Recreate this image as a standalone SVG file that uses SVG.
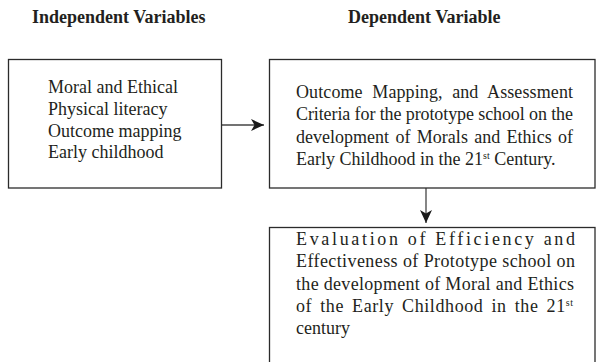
<svg xmlns="http://www.w3.org/2000/svg" width="597" height="362" viewBox="0 0 597 362">
<style>
.box{fill:#fff;stroke:#2b2b2b;stroke-width:1.3}
.t{font-family:"Liberation Serif","Times New Roman",serif;font-size:18px;fill:#231f20}
.h{font-family:"Liberation Serif","Times New Roman",serif;font-size:18px;font-weight:bold;fill:#231f20}
.sup{font-size:10px}
.conn{stroke:#444;stroke-width:1.3;fill:none}
</style>
<defs>
<marker id="ah" markerWidth="14" markerHeight="12" refX="13" refY="6" orient="auto" markerUnits="userSpaceOnUse">
<path d="M0,0 L13,6 L0,12 L3.5,6 Z" fill="#1a1a1a"/>
</marker>
</defs>
<g id="headers">
<text class="h" x="32" y="23">Independent Variables</text>
<text class="h" x="348" y="23">Dependent Variable</text>
</g>
<g id="connectors">
<line class="conn" x1="221.5" y1="125" x2="264" y2="125" marker-end="url(#ah)"/>
<line class="conn" x1="426" y1="188" x2="426" y2="223" marker-end="url(#ah)"/>
</g>
<g id="independent">
<rect class="box" x="8.5" y="59.5" width="213" height="128.5"/>
<text class="t" x="48" y="92.5">Moral and Ethical</text>
<text class="t" x="48" y="114.5">Physical literacy</text>
<text class="t" x="48" y="136.5">Outcome mapping</text>
<text class="t" x="48" y="158">Early childhood</text>
</g>
<g id="dependent">
<rect class="box" x="269.5" y="59.5" width="325.5" height="128.5"/>
<text class="t" x="296" y="98" textLength="277" lengthAdjust="spacing" word-spacing="5">Outcome Mapping, and Assessment</text>
<text class="t" x="296" y="120" textLength="277" lengthAdjust="spacing">Criteria for the prototype school on the</text>
<text class="t" x="296" y="142.5" textLength="277" lengthAdjust="spacing" word-spacing="1.8">development of Morals and Ethics of</text>
<text class="t" x="296" y="165">Early Childhood in the 21<tspan class="sup" dy="-6">st</tspan><tspan dy="6"> Century.</tspan></text>
</g>
<g id="evaluation">
<rect class="box" x="269.5" y="227.5" width="325.5" height="140"/>
<text class="t" x="296" y="245" textLength="279" lengthAdjust="spacing">Evaluation of Efficiency and</text>
<text class="t" x="296" y="267" textLength="279" lengthAdjust="spacing">Effectiveness of Prototype school on</text>
<text class="t" x="296" y="289.5" textLength="278" lengthAdjust="spacing">the development of Moral and Ethics</text>
<text class="t" x="296" y="312" textLength="277" lengthAdjust="spacing" word-spacing="3">of the Early Childhood in the 21<tspan class="sup" dy="-6">st</tspan></text>
<text class="t" x="296" y="334">century</text>
</g>
</svg>
